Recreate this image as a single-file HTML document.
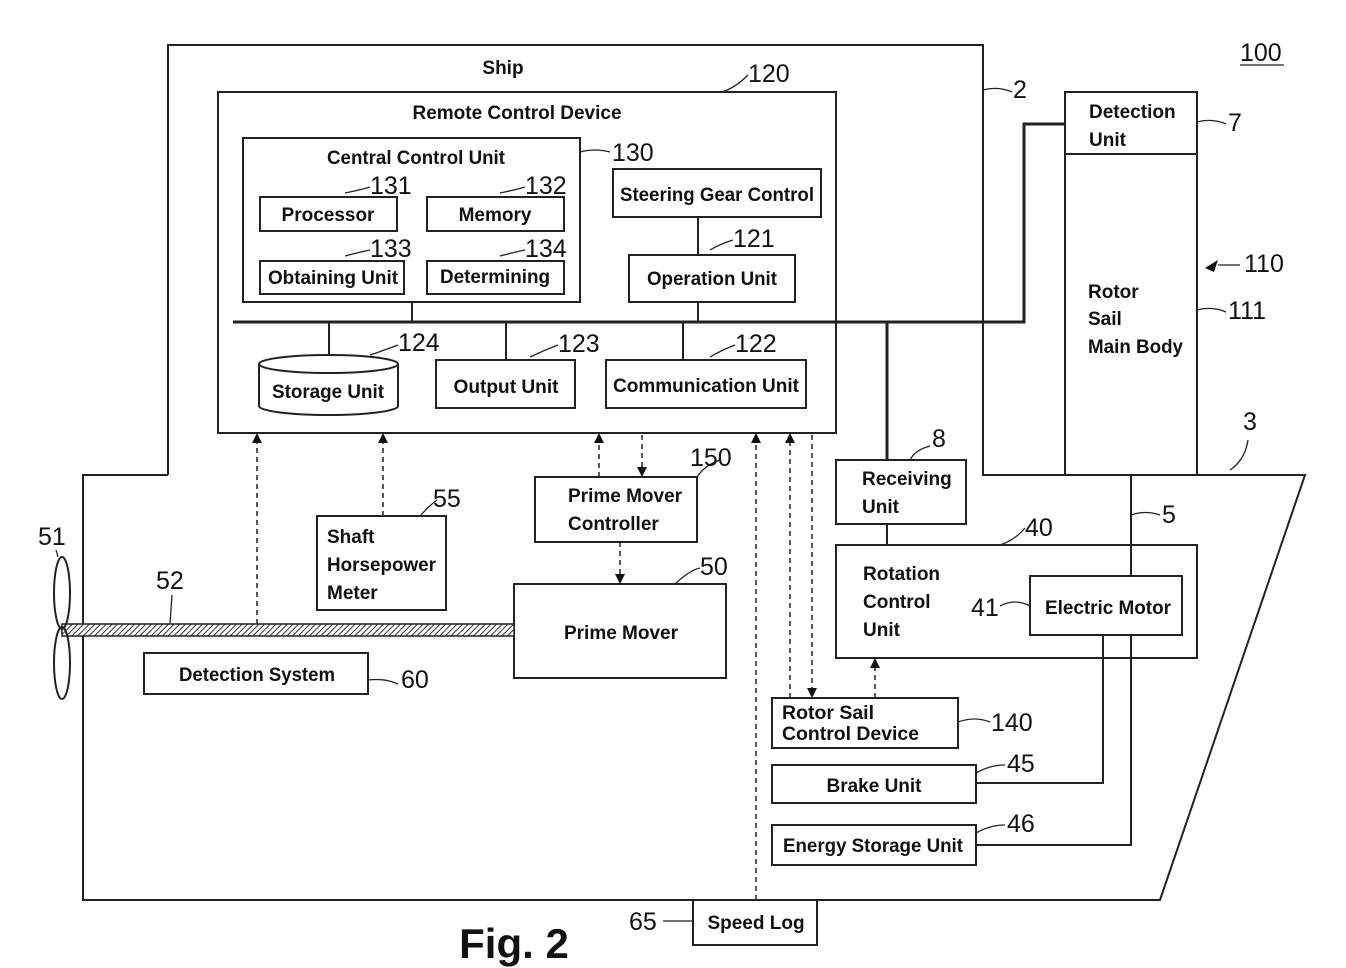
<!DOCTYPE html>
<html><head><meta charset="utf-8"><style>
html,body{margin:0;padding:0;background:#fff;}
svg{display:block;}
text{font-family:"Liberation Sans",sans-serif;fill:#111;}
.b{font-weight:bold;font-size:19px;}
.n{font-size:25px;font-family:"Liberation Sans Narrow","Liberation Sans",sans-serif;}
</style></head><body>
<svg width="1346" height="968" viewBox="0 0 1346 968" xmlns="http://www.w3.org/2000/svg">
<defs>
<marker id="ah" markerWidth="10" markerHeight="10" refX="5" refY="9" orient="auto" markerUnits="userSpaceOnUse">
<path d="M1,0 L5,9 L9,0 Z" fill="#111" transform="rotate(0)"/>
</marker>
<pattern id="hatch" width="4" height="4" patternUnits="userSpaceOnUse" patternTransform="rotate(45)">
<rect width="4" height="4" fill="#fff"/><line x1="0" y1="0" x2="0" y2="4" stroke="#333" stroke-width="2"/>
</pattern>
</defs>
<g fill="none" stroke="#222" stroke-width="2">
<!-- ship outline -->
<path d="M168,475 L168,45 L983,45 L983,475 L1065,475 M1197,475 L1305,475 L1160,900 L83,900 L83,475 L168,475"/>
<!-- remote control -->
<rect x="218" y="92" width="618" height="341"/>
<rect x="243" y="138" width="337" height="164"/>
<rect x="260" y="197" width="137" height="34"/>
<rect x="427" y="197" width="137" height="34"/>
<rect x="260" y="261" width="144" height="33"/>
<rect x="427" y="261" width="137" height="33"/>
<rect x="613" y="169" width="208" height="48"/>
<rect x="629" y="255" width="166" height="47"/>
<line x1="698" y1="217" x2="698" y2="255"/>
<!-- bus -->
<path d="M233,322 L1024,322 L1024,124 L1065,124" stroke-width="3"/>
<line x1="329" y1="322" x2="329" y2="355"/>
<line x1="412" y1="302" x2="412" y2="322"/>
<line x1="506" y1="322" x2="506" y2="360"/>
<line x1="683" y1="322" x2="683" y2="360"/>
<line x1="698" y1="302" x2="698" y2="322"/>
<line x1="887" y1="322" x2="887" y2="460" stroke-width="3"/>
<!-- storage cylinder -->
<path d="M259,364 L259,406 A69.5,9 0 0 0 398,406 L398,364"/>
<ellipse cx="328.5" cy="364" rx="69.5" ry="9"/>
<rect x="436" y="360" width="139" height="48"/>
<rect x="606" y="360" width="200" height="48"/>
<!-- rotor sail -->
<rect x="1065" y="92" width="132" height="62"/>
<rect x="1065" y="154" width="132" height="321"/>
<!-- receiving, rotation -->
<rect x="836" y="460" width="130" height="64"/>
<line x1="887" y1="524" x2="887" y2="545"/>
<rect x="836" y="545" width="361" height="113"/>
<rect x="1030" y="576" width="152" height="59"/>
<line x1="1131" y1="475" x2="1131" y2="576"/>
<path d="M1103,635 L1103,783 L976,783"/>
<path d="M1131,635 L1131,845 L976,845"/>
<rect x="772" y="698" width="186" height="50"/>
<rect x="772" y="765" width="204" height="38"/>
<rect x="772" y="825" width="204" height="40"/>
<rect x="693" y="900" width="124" height="45"/>
<rect x="535" y="477" width="162" height="65"/>
<rect x="514" y="584" width="212" height="94"/>
<rect x="317" y="516" width="129" height="94"/>
<rect x="144" y="653" width="224" height="41"/>
<!-- shaft -->
<rect x="62" y="624" width="452" height="12" fill="url(#hatch)" stroke-width="1.5"/>
<ellipse cx="62" cy="593" rx="8" ry="36"/>
<ellipse cx="62" cy="663" rx="8" ry="36"/>
</g>
<!-- dashed -->
<g fill="none" stroke="#222" stroke-width="1.5" stroke-dasharray="5,4">
<line x1="875" y1="698" x2="875" y2="660"/>
<line x1="790" y1="698" x2="790" y2="435"/>
<line x1="812" y1="435" x2="812" y2="696"/>
<line x1="756" y1="900" x2="756" y2="435"/>
<line x1="599" y1="477" x2="599" y2="435"/>
<line x1="642" y1="435" x2="642" y2="475"/>
<line x1="620" y1="542" x2="620" y2="582"/>
<line x1="383" y1="516" x2="383" y2="435"/>
<line x1="257" y1="624" x2="257" y2="435"/>
</g>
<g fill="#111">
<path d="M870,668 L875,658 L880,668Z"/>
<path d="M785,443 L790,433 L795,443Z"/>
<path d="M807,688 L812,698 L817,688Z"/>
<path d="M751,443 L756,433 L761,443Z"/>
<path d="M594,443 L599,433 L604,443Z"/>
<path d="M637,467 L642,477 L647,467Z"/>
<path d="M615,574 L620,584 L625,574Z"/>
<path d="M378,443 L383,433 L388,443Z"/>
<path d="M252,443 L257,433 L262,443Z"/>
<path d="M1205,268 L1218,260 L1214,272Z"/>
</g>
<!-- leaders -->
<g fill="none" stroke="#222" stroke-width="1.3">
<path d="M722,92 Q735,88 748,75"/>
<path d="M983,90 Q998,86 1012,92"/>
<path d="M580,152 Q595,148 610,152"/>
<path d="M345,193 Q360,190 370,187"/>
<path d="M500,193 Q515,190 525,187"/>
<path d="M345,256 Q360,252 370,250"/>
<path d="M500,256 Q515,252 525,250"/>
<path d="M710,250 Q720,244 733,240"/>
<path d="M370,355 Q385,350 398,345"/>
<path d="M530,357 Q545,350 558,345"/>
<path d="M710,357 Q722,350 735,345"/>
<path d="M1197,122 Q1212,118 1226,124"/>
<path d="M1197,310 Q1212,306 1226,312"/>
<path d="M1218,265 L1240,265"/>
<path d="M1230,470 Q1245,460 1248,440"/>
<path d="M910,460 Q915,450 930,446"/>
<path d="M1000,545 Q1015,540 1025,528"/>
<path d="M1131,515 Q1145,510 1160,515"/>
<path d="M1030,606 Q1015,598 1000,606"/>
<path d="M958,722 Q975,716 990,722"/>
<path d="M976,773 Q990,765 1005,765"/>
<path d="M976,833 Q990,825 1005,825"/>
<path d="M697,477 Q705,465 720,460"/>
<path d="M675,584 Q690,570 700,568"/>
<path d="M420,516 Q430,505 437,500"/>
<path d="M368,680 Q385,678 398,684"/>
<path d="M170,624 L172,595"/>
<path d="M58,557 L56,550"/>
<path d="M663,921 L693,921"/>
<line x1="1240" y1="65" x2="1284" y2="65"/>
</g>
<!-- text -->
<text class="b" x="503" y="74" text-anchor="middle" font-size="21">Ship</text>
<text class="b" x="517" y="119" text-anchor="middle" font-size="21">Remote Control Device</text>
<text x="416" y="164" text-anchor="middle" font-size="19" style="font-weight:bold" textLength="178" lengthAdjust="spacingAndGlyphs">Central Control Unit</text>
<text class="b" x="328" y="221" text-anchor="middle">Processor</text>
<text class="b" x="495" y="221" text-anchor="middle">Memory</text>
<text class="b" x="333" y="284" text-anchor="middle" textLength="130" lengthAdjust="spacingAndGlyphs">Obtaining Unit</text>
<text class="b" x="495" y="283" text-anchor="middle" textLength="110" lengthAdjust="spacingAndGlyphs">Determining</text>
<text class="b" x="717" y="201" text-anchor="middle" textLength="194" lengthAdjust="spacingAndGlyphs">Steering Gear Control</text>
<text class="b" x="712" y="285" text-anchor="middle" textLength="130" lengthAdjust="spacingAndGlyphs">Operation Unit</text>
<text class="b" x="328" y="398" text-anchor="middle" textLength="112" lengthAdjust="spacingAndGlyphs">Storage Unit</text>
<text class="b" x="506" y="393" text-anchor="middle" textLength="105" lengthAdjust="spacingAndGlyphs">Output Unit</text>
<text class="b" x="706" y="392" text-anchor="middle" textLength="186" lengthAdjust="spacingAndGlyphs">Communication Unit</text>
<text class="b" x="1089" y="118">Detection</text>
<text class="b" x="1089" y="146">Unit</text>
<text class="b" x="1088" y="298">Rotor</text>
<text class="b" x="1088" y="325">Sail</text>
<text class="b" x="1088" y="353" textLength="95" lengthAdjust="spacingAndGlyphs">Main Body</text>
<text class="b" x="862" y="485">Receiving</text>
<text class="b" x="862" y="513">Unit</text>
<text class="b" x="863" y="580">Rotation</text>
<text class="b" x="863" y="608">Control</text>
<text class="b" x="863" y="636">Unit</text>
<text class="b" x="1108" y="614" text-anchor="middle" textLength="126" lengthAdjust="spacingAndGlyphs">Electric Motor</text>
<text class="b" x="782" y="719" textLength="92" lengthAdjust="spacingAndGlyphs">Rotor Sail</text>
<text class="b" x="782" y="740" textLength="137" lengthAdjust="spacingAndGlyphs">Control Device</text>
<text class="b" x="874" y="792" text-anchor="middle">Brake Unit</text>
<text class="b" x="873" y="852" text-anchor="middle" textLength="180" lengthAdjust="spacingAndGlyphs">Energy Storage Unit</text>
<text class="b" x="756" y="929" text-anchor="middle">Speed Log</text>
<text class="b" x="568" y="502">Prime Mover</text>
<text class="b" x="568" y="530">Controller</text>
<text class="b" x="621" y="639" text-anchor="middle">Prime Mover</text>
<text class="b" x="327" y="543">Shaft</text>
<text class="b" x="327" y="571" textLength="109" lengthAdjust="spacingAndGlyphs">Horsepower</text>
<text class="b" x="327" y="599">Meter</text>
<text class="b" x="257" y="681" text-anchor="middle" textLength="156" lengthAdjust="spacingAndGlyphs">Detection System</text>
<text x="514" y="958" text-anchor="middle" font-size="42" font-weight="bold">Fig. 2</text>
<g class="n">
<text x="1240" y="61">100</text>
<text x="748" y="82">120</text>
<text x="1013" y="98">2</text>
<text x="612" y="161">130</text>
<text x="370" y="194">131</text>
<text x="525" y="194">132</text>
<text x="370" y="257">133</text>
<text x="525" y="257">134</text>
<text x="733" y="247">121</text>
<text x="398" y="351">124</text>
<text x="558" y="352">123</text>
<text x="735" y="352">122</text>
<text x="1228" y="131">7</text>
<text x="1244" y="272">110</text>
<text x="1228" y="319">111</text>
<text x="1243" y="430">3</text>
<text x="932" y="447">8</text>
<text x="1025" y="536">40</text>
<text x="1162" y="523">5</text>
<text x="971" y="616">41</text>
<text x="991" y="731">140</text>
<text x="1007" y="772">45</text>
<text x="1007" y="832">46</text>
<text x="690" y="466">150</text>
<text x="700" y="575">50</text>
<text x="433" y="507">55</text>
<text x="401" y="688">60</text>
<text x="156" y="589">52</text>
<text x="38" y="545">51</text>
<text x="629" y="930">65</text>
</g>
</svg>
</body></html>
